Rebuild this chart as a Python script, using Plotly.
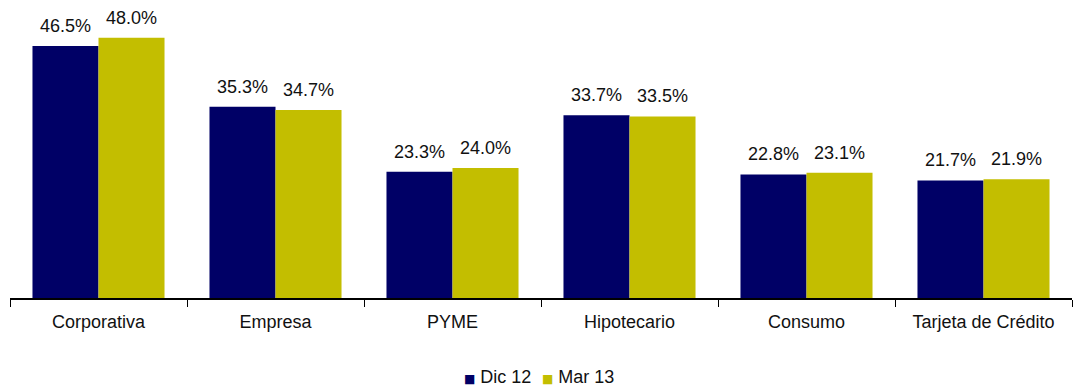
import plotly.graph_objects as go

categories = ["Corporativa", "Empresa", "PYME", "Hipotecario", "Consumo", "Tarjeta de Crédito"]
dic_12 = [46.5, 35.3, 23.3, 33.7, 22.8, 21.7]
mar_13 = [48.0, 34.7, 24.0, 33.5, 23.1, 21.9]
series_names = ["Dic 12", "Mar 13"]
colors = ["#000066", "#C3BE00"]

FONT = "Liberation Sans, Arial, sans-serif"
FS = 18

fig = go.Figure()
for name, vals, col in zip(series_names, [dic_12, mar_13], colors):
    fig.add_trace(go.Bar(
        x=categories, y=vals, name=name,
        marker=dict(color=col, line=dict(width=0)),
        showlegend=False,
    ))

# value labels above each bar
for vals, shift in ((dic_12, -33), (mar_13, 33)):
    for cat, v in zip(categories, vals):
        fig.add_annotation(
            x=cat, y=v, text=f"{v:.1f}%", showarrow=False,
            xshift=shift, yshift=8, yanchor="bottom",
            font=dict(family=FONT, size=FS, color="#111111"),
        )

# compact legend: small coloured square followed by the series name
for name, col, lx in zip(series_names, colors, (0.4256, 0.4995)):
    fig.add_annotation(
        xref="paper", yref="paper", x=lx, y=-0.2915,
        xanchor="left", yanchor="middle", showarrow=False,
        text=f"<span style='color:{col};font-size:12px;font-family:DejaVu Sans'>■</span> {name}",
        font=dict(family=FONT, size=FS, color="#111111"),
    )

fig.update_layout(
    width=1078, height=386,
    margin=dict(l=10, r=6, t=27, b=88, autoexpand=False),
    paper_bgcolor="white", plot_bgcolor="white",
    barmode="group", bargap=0.254, bargroupgap=0,
    font=dict(family=FONT, size=FS, color="#111111"),
    showlegend=False,
    xaxis=dict(
        showline=True, linecolor="black", linewidth=2,
        ticks="outside", tickson="boundaries", ticklen=7, tickcolor="black",
        tickwidth=1, ticklabelstandoff=6, automargin=False,
        tickfont=dict(family=FONT, size=FS, color="#111111"),
        showgrid=False,
    ),
    yaxis=dict(range=[0, 50], visible=False, showgrid=False),
)

fig.write_html("out.html")
